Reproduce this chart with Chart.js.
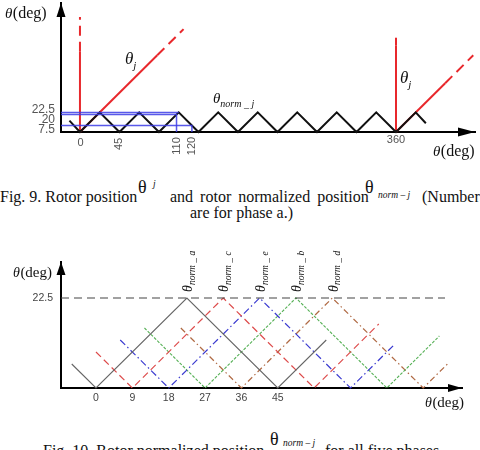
<!DOCTYPE html>
<html><head><meta charset="utf-8">
<script src="https://cdn.jsdelivr.net/npm/chart.js@4.4.0/dist/chart.umd.min.js"></script>
<style>
html,body{margin:0;padding:0;background:#fff;}
body{width:480px;height:450px;overflow:hidden;position:relative;font-family:"Liberation Serif","Times New Roman",serif;color:#111;}
canvas{position:absolute;left:0;}
#c1{top:0;}
#c2{top:245px;}
.t{position:absolute;white-space:nowrap;font-size:16px;line-height:15px;}
.bt{position:absolute;white-space:nowrap;font-size:18px;line-height:18px;}
.sb{position:absolute;white-space:nowrap;font-size:9.5px;line-height:9.5px;font-style:italic;}
</style></head><body>
<canvas id="c1" width="480" height="165"></canvas>
<canvas id="c2" width="480" height="175"></canvas>

<span class="t" style="left:0;top:189px">Fig. 9. Rotor position</span>
<span class="bt" style="left:138px;top:178px">θ</span>
<span class="sb" style="left:153px;top:180px">j</span>
<span class="t" style="left:170px;top:189px;word-spacing:3px">and rotor normalized position</span>
<span class="bt" style="left:365px;top:178px">θ</span>
<span class="sb" style="left:378px;top:191px">norm – j</span>
<span class="t" style="left:422px;top:189px">(Numbers</span>
<span class="t" style="left:190px;top:205px">are for phase a.)</span>

<span class="t" style="left:43px;top:443px">Fig. 10. Rotor normalized position</span>
<span class="bt" style="left:270px;top:430px">θ</span>
<span class="sb" style="left:283px;top:439px">norm – j</span>
<span class="t" style="left:325px;top:443px">for all five phases.</span>

<script>
// ---------- Figure 9 data ----------
const fig9ThetaMin = -21.6, fig9ThetaMax = 450;
const fig9ValueMin = 0, fig9ValueMax = 148;
const normThetaX = [-12, 0, 22.5, 45, 67.5, 90, 112.5, 135, 157.5, 180, 202.5, 225, 247.5, 270, 292.5, 315, 337.5, 360, 382.5, 394];
const normThetaY = [13, 0, 22.5, 0, 22.5, 0, 22.5, 0, 22.5, 0, 22.5, 0, 22.5, 0, 22.5, 0, 22.5, 0, 22.5, 10];
const rotorJumpA_X = [0, 0, 0];
const rotorJumpA_Y = [0, 92, 132];
const rotorRampA_X = [0, 88, 118];
const rotorRampA_Y = [0, 88, 118];
const rotorJumpB_X = [360, 360, 360];
const rotorJumpB_Y = [0, 99, 115];
const rotorRampB_X = [360, 416, 448];
const rotorRampB_Y = [0, 56, 88];
const guide225_X = [-21.6, 112.5];
const guide225_Y = [22.5, 22.5];
const guide20_X = [-21.6, 110, 110];
const guide20_Y = [20, 20, 0];
const guide75_X = [-21.6, 127.5, 127.5];
const guide75_Y = [7.5, 7.5, 0];
const fig9XTickValues = [0, 45, 110, 127.5, 360];
const fig9XTickLabels = ["0", "45", "110", "120", "360"];
const fig9YTickValues = [22.5, 20, 7.5];
const fig9YTickLabels = ["22.5", "20", "7.5"];

// ---------- Figure 10 data ----------
const fig10ThetaMin = -8.66, fig10ThetaMax = 90.6;
const fig10ValueMin = 0, fig10ValueMax = 31.5;
const phaseA_X = [-6, 0, 22.5, 45, 57];
const phaseA_Y = [6, 0, 22.5, 0, 12];
const phaseC_X = [0, 9, 31.5, 54, 70];
const phaseC_Y = [9, 0, 22.5, 0, 16];
const phaseE_X = [6, 18, 40.5, 63, 74];
const phaseE_Y = [12, 0, 22.5, 0, 11];
const phaseB_X = [12, 27, 49.5, 72, 85];
const phaseB_Y = [15, 0, 22.5, 0, 13];
const phaseD_X = [21, 36, 58.5, 81, 87];
const phaseD_Y = [15, 0, 22.5, 0, 6];
const peakLineX = [-8.66, 86.4];
const peakLineY = [22.5, 22.5];
const phaseLabels = ["a", "c", "e", "b", "d"];
const phasePeakTheta = [22.5, 31.5, 40.5, 49.5, 58.5];
const phasePeakValue = 22.5;
const fig10XTickValues = [0, 9, 18, 27, 36, 45];
const fig10XTickLabels = ["0", "9", "18", "27", "36", "45"];
const fig10YTickValues = [22.5];
const fig10YTickLabels = ["22.5"];

function pts(xs, ys) { return xs.map((x, i) => ({x: x, y: ys[i]})); }

function upArrow(ctx, x, y, len, hw) {
  ctx.beginPath(); ctx.moveTo(x, y); ctx.lineTo(x - hw, y + len); ctx.lineTo(x + hw, y + len); ctx.closePath(); ctx.fill();
}
function rightArrow(ctx, x, y, len, hw) {
  ctx.beginPath(); ctx.moveTo(x, y); ctx.lineTo(x - len, y - hw); ctx.lineTo(x - len, y + hw); ctx.closePath(); ctx.fill();
}
function degTitle(ctx, x, yc, thSize, dSize) {
  ctx.save();
  ctx.fillStyle = '#111';
  ctx.textBaseline = 'middle';
  ctx.textAlign = 'left';
  ctx.font = 'italic ' + thSize + 'px "Liberation Serif"';
  ctx.fillText('θ', x, yc);
  const w = ctx.measureText('θ').width;
  ctx.font = dSize + 'px "Liberation Serif"';
  ctx.fillText('(deg)', x + w + 0.5, yc);
  ctx.restore();
}
function thetaSub(ctx, x, yc, thSize, sub, subSize, dy) {
  ctx.save();
  ctx.fillStyle = '#111';
  ctx.textBaseline = 'middle';
  ctx.textAlign = 'left';
  ctx.font = 'italic ' + thSize + 'px "Liberation Serif"';
  ctx.fillText('θ', x, yc);
  const w = ctx.measureText('θ').width;
  ctx.font = 'italic ' + subSize + 'px "Liberation Serif"';
  ctx.fillText(sub, x + w, yc + dy);
  ctx.restore();
}

const fig9Decor = {
  id: 'fig9Decor',
  afterDraw(chart) {
    const ctx = chart.ctx, a = chart.chartArea, xs = chart.scales.x, ys = chart.scales.y;
    ctx.save();
    ctx.fillStyle = '#000';
    upArrow(ctx, a.left, a.top, 14, 4.5);
    rightArrow(ctx, a.right, a.bottom, 17, 4.5);
    ctx.fillStyle = '#555';
    ctx.font = '11px "Liberation Sans"';
    ctx.textBaseline = 'middle';
    fig9XTickValues.forEach((v, i) => {
      const px = xs.getPixelForValue(v);
      const lab = fig9XTickLabels[i];
      if (lab === '0') { ctx.textAlign = 'center'; ctx.fillText(lab, px + 0.5, a.bottom + 11); }
      else if (lab === '360') { ctx.textAlign = 'center'; ctx.fillText(lab, px, a.bottom + 7.5); }
      else {
        ctx.save(); ctx.translate(px, a.bottom + (lab.length > 2 ? 14 : 12)); ctx.rotate(-Math.PI / 2);
        ctx.textAlign = 'center'; ctx.fillText(lab, 0, 0); ctx.restore();
      }
    });
    const nudge = [-2.4, 4.9, 4];
    ctx.font = '12px "Liberation Sans"';
    ctx.textAlign = 'right';
    fig9YTickValues.forEach((v, i) => {
      ctx.fillText(fig9YTickLabels[i], a.left - 6, ys.getPixelForValue(v) + nudge[i]);
    });
    ctx.restore();
    degTitle(ctx, 5, 14, 15, 16);
    degTitle(ctx, 433, 152, 15, 16);
    thetaSub(ctx, 125, 60, 17, 'j', 11, 6);
    thetaSub(ctx, 400, 79, 17, 'j', 11, 6);
    thetaSub(ctx, 213, 99, 15, 'norm _ j', 10, 5);
  }
};

const axisOpts = (min, max, horiz) => ({
  type: 'linear', min: min, max: max,
  grid: {display: false, drawTicks: false},
  border: {display: true, color: '#000', width: 2},
  ticks: {display: false},
  afterFit: s => { if (horiz) s.height = 0; else s.width = 0; }
});

const redSeg = (n) => ({segment: {borderDash: ctx => ctx.p0DataIndex >= n ? [10, 6] : undefined}});

new Chart(document.getElementById('c1'), {
  type: 'line',
  data: {datasets: [
    {data: pts(guide225_X, guide225_Y), borderColor: 'rgba(60,60,230,0.85)', borderWidth: 1.5},
    {data: pts(guide20_X, guide20_Y), borderColor: 'rgba(60,60,230,0.85)', borderWidth: 1.5},
    {data: pts(guide75_X, guide75_Y), borderColor: 'rgba(60,60,230,0.85)', borderWidth: 1.5},
    {data: pts(normThetaX, normThetaY), borderColor: '#111', borderWidth: 2},
    Object.assign({data: pts(rotorJumpA_X, rotorJumpA_Y), borderColor: '#e8282c', borderWidth: 2}, redSeg(1)),
    Object.assign({data: pts(rotorRampA_X, rotorRampA_Y), borderColor: '#e8282c', borderWidth: 2}, redSeg(1)),
    Object.assign({data: pts(rotorJumpB_X, rotorJumpB_Y), borderColor: '#e8282c', borderWidth: 2}, {segment: {borderDash: ctx => ctx.p0DataIndex >= 1 ? [8, 6] : undefined}}),
    Object.assign({data: pts(rotorRampB_X, rotorRampB_Y), borderColor: '#e8282c', borderWidth: 2}, redSeg(1))
  ]},
  options: {
    responsive: false, animation: false, events: [],
    plugins: {legend: {display: false}, tooltip: {enabled: false}},
    layout: {padding: {left: 61, right: 5, top: 3, bottom: 33}},
    elements: {point: {radius: 0}, line: {tension: 0, fill: false}},
    datasets: {line: {clip: false}},
    scales: {x: axisOpts(fig9ThetaMin, fig9ThetaMax, true), y: axisOpts(fig9ValueMin, fig9ValueMax, false)}
  },
  plugins: [fig9Decor]
});

const fig10Decor = {
  id: 'fig10Decor',
  afterDraw(chart) {
    const ctx = chart.ctx, a = chart.chartArea, xs = chart.scales.x, ys = chart.scales.y;
    ctx.save();
    ctx.fillStyle = '#000';
    upArrow(ctx, a.left, a.top, 13, 4.5);
    rightArrow(ctx, a.right, a.bottom, 14, 4);
    ctx.fillStyle = '#444';
    ctx.font = '10.5px "Liberation Sans"';
    ctx.textBaseline = 'middle';
    ctx.textAlign = 'center';
    fig10XTickValues.forEach((v, i) => ctx.fillText(fig10XTickLabels[i], xs.getPixelForValue(v), a.bottom + 10));
    ctx.textAlign = 'right';
    fig10YTickValues.forEach((v, i) => ctx.fillText(fig10YTickLabels[i], a.left - 8, ys.getPixelForValue(v)));
    phaseLabels.forEach((p, i) => {
      const px = xs.getPixelForValue(phasePeakTheta[i]) + 1.5;
      const py = ys.getPixelForValue(phasePeakValue) - 6;
      ctx.save();
      ctx.translate(px, py);
      ctx.rotate(-Math.PI / 2);
      ctx.fillStyle = '#111';
      ctx.textAlign = 'left';
      ctx.textBaseline = 'middle';
      ctx.font = 'italic 14px "Liberation Serif"';
      ctx.fillText('θ', 0, 0);
      const w = ctx.measureText('θ').width;
      ctx.font = 'italic 9.5px "Liberation Serif"';
      ctx.fillText('norm _ ' + p, w, 4);
      ctx.restore();
    });
    ctx.restore();
    degTitle(ctx, 13, 28, 14, 15);
    degTitle(ctx, 425, 158, 14, 15);
  }
};

new Chart(document.getElementById('c2'), {
  type: 'line',
  data: {datasets: [
    {data: pts(peakLineX, peakLineY), borderColor: '#444', borderWidth: 1.2, borderDash: [8, 5]},
    {data: pts(phaseA_X, phaseA_Y), borderColor: '#666', borderWidth: 1.1},
    {data: pts(phaseC_X, phaseC_Y), borderColor: '#dd4a4a', borderWidth: 1.2, borderDash: [7, 4]},
    {data: pts(phaseE_X, phaseE_Y), borderColor: '#3a3ad0', borderWidth: 1.2, borderDash: [7, 3, 1.5, 3]},
    {data: pts(phaseB_X, phaseB_Y), borderColor: '#55b055', borderWidth: 1.1, borderDash: [3, 1.5]},
    {data: pts(phaseD_X, phaseD_Y), borderColor: '#b06a44', borderWidth: 1.2, borderDash: [6, 3, 1.5, 3]}
  ]},
  options: {
    responsive: false, animation: false, events: [],
    plugins: {legend: {display: false}, tooltip: {enabled: false}},
    layout: {padding: {left: 61, right: 18, top: 17, bottom: 32}},
    elements: {point: {radius: 0}, line: {tension: 0, fill: false}},
    datasets: {line: {clip: false}},
    scales: {x: axisOpts(fig10ThetaMin, fig10ThetaMax, true), y: axisOpts(fig10ValueMin, fig10ValueMax, false)}
  },
  plugins: [fig10Decor]
});
</script>
</body></html>
